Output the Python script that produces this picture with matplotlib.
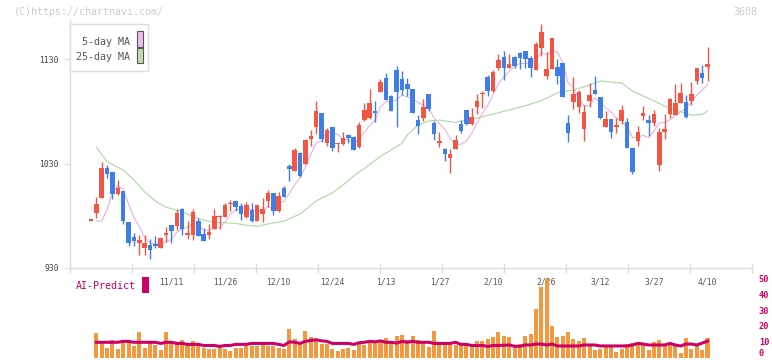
import numpy as np
import pandas as pd
import matplotlib
matplotlib.use('Agg')
import matplotlib.pyplot as plt
from matplotlib.patches import Rectangle
from matplotlib.transforms import blended_transform_factory

# ---- daily prices (candles, oldest first) ----
opens = [975.5, 982.6, 997, 1025.7, 1021.9, 1001, 1003.7, 974, 959.7, 954.2,
         949.4, 952, 953, 949.4, 961.6, 971.1, 970.5, 986.5, 961.6, 961.6,
         975, 962.5, 961.9, 967.6, 979, 978.8, 991.2, 994, 989.3, 979.1,
         985.5, 975.3, 981.7, 994, 1001.7, 984.5, 1006.6, 1027.6, 1023.1, 1040,
         1030, 1053.7, 1065.2, 1078.3, 1049.9, 1064.9, 1049.1, 1049.1, 1057.3, 1055.4,
         1045.8, 1071.9, 1073.8, 1080.2, 1098.8, 1112.2, 1094.6, 1119.5, 1110.9, 1106.1,
         1101.3, 1071.6, 1073.5, 1096.5, 1068.8, 1049.9, 1043.9, 1035.3, 1043.9, 1067.8,
         1081.2, 1067.8, 1084.1, 1097.2, 1112.8, 1099.4, 1121.4, 1131.9, 1121.4, 1131.9,
         1135.7, 1137.7, 1131, 1119.5, 1140.5, 1113.7, 1120.4, 1122.3, 1126.2, 1068.8,
         1088.9, 1084.1, 1063, 1089.8, 1100.3, 1093.6, 1064.9, 1072.6, 1064.9, 1070.7,
         1069.7, 1044.8, 1051.5, 1075.4, 1071.6, 1069, 1028.6, 1060.4, 1077.6, 1076.7,
         1087.9, 1088.9, 1089.8, 1108.9, 1116.6, 1122.3]
highs = [976.5, 998, 1031.4, 1028.6, 1021.9, 1014, 1003.7, 974, 963.5, 961.9,
         961.6, 957.8, 960.6, 958.7, 969.2, 971.1, 986.5, 987.4, 975, 986.5,
         977.8, 968.3, 972.1, 986.5, 980.7, 992.2, 995, 994, 992.2, 993.2,
         992.2, 990.3, 997, 1004.6, 1001.7, 1002.7, 1008.5, 1029.5, 1044.8, 1041,
         1053.4, 1062, 1089.8, 1078.3, 1064, 1064.9, 1049.9, 1060.1, 1058.2, 1056.3,
         1069.7, 1087.9, 1101.3, 1089.8, 1111.3, 1117, 1095.5, 1123.3, 1118.5, 1111.8,
         1101.3, 1076.4, 1091.7, 1096.5, 1070.7, 1060.1, 1044.8, 1043.9, 1057.3, 1071.6,
         1081.2, 1083.1, 1096.5, 1099.4, 1114.7, 1119.5, 1134.8, 1137.7, 1134.8, 1132.9,
         1136.7, 1137.7, 1132.9, 1146.3, 1163.5, 1136.7, 1150.1, 1130, 1126.2, 1076.4,
         1112.8, 1100.3, 1086, 1107, 1113.7, 1093.6, 1080.2, 1072.6, 1073.5, 1086,
         1073.5, 1044.8, 1065.9, 1085, 1076.4, 1081.2, 1064, 1077.4, 1092.7, 1106.1,
         1107, 1095.5, 1108, 1121.4, 1124.3, 1141.5]
lows = [975.5, 978, 997, 1016.4, 996, 999.6, 972.4, 951.4, 951.4, 942.7,
        942.7, 938.6, 949.4, 949.4, 954.9, 954.2, 966.7, 961.9, 957.8, 957.2,
        961, 956.1, 957.8, 967.6, 967.6, 978.8, 984.5, 984.5, 976, 978.2,
        974.4, 975.3, 974.4, 988.4, 980.7, 983.6, 997.9, 1013.7, 1023.1, 1017,
        1030, 1046.7, 1058.4, 1050.9, 1046.9, 1042.2, 1041.2, 1048.1, 1050.1, 1043.2,
        1045.1, 1071, 1072.9, 1070.1, 1098.8, 1090.7, 1080.2, 1065.2, 1095.5, 1094.6,
        1078.3, 1058.2, 1070.7, 1080.2, 1052.5, 1046.1, 1032.7, 1020.9, 1043.9, 1059.2,
        1066.8, 1066.8, 1077.4, 1083.1, 1094.6, 1098.4, 1119.5, 1109.9, 1121.4, 1121.4,
        1120.4, 1121.4, 1112.8, 1119.5, 1132.9, 1110.9, 1120.4, 1106.1, 1093.6, 1050.6,
        1082.2, 1078.3, 1051.5, 1084.1, 1096.5, 1072.6, 1064.9, 1054.4, 1059.2, 1067.8,
        1044.8, 1020, 1046.7, 1071.6, 1056.3, 1066.2, 1023.1, 1053.7, 1074, 1076.7,
        1087.9, 1073.5, 1086, 1106.1, 1107, 1108.9]
closes = [976.5, 991, 1025.7, 1020.2, 1001, 1006.3, 975.3, 954.2, 956.3, 956.8,
          953.9, 947.5, 951.3, 958.7, 963.5, 965.7, 982.6, 967.7, 963.5, 983.6,
          961, 956.1, 964.4, 979.8, 979.8, 990.3, 992.2, 988.4, 981.7, 990.3,
          975.3, 990.3, 986.5, 1001.7, 984.5, 998.9, 997.9, 1025, 1042.9, 1018,
          1052.5, 1056.3, 1080.2, 1053.7, 1062, 1045.1, 1049.9, 1054.4, 1054.7, 1043.2,
          1066.8, 1081.2, 1087.9, 1078.6, 1108.4, 1090.7, 1080.5, 1098.4, 1100.3, 1101.3,
          1078.3, 1065.9, 1084.1, 1082.2, 1058.2, 1051.5, 1039.1, 1039.1, 1052.5, 1061.1,
          1067.8, 1074.5, 1089.8, 1097.5, 1099.4, 1117.6, 1129.1, 1121.4, 1125.2, 1123.3,
          1131, 1130, 1121.4, 1144.4, 1155.8, 1120.4, 1150.1, 1113.7, 1093.6, 1059.2,
          1096.5, 1098.4, 1079.3, 1095.5, 1096.5, 1073.5, 1072.6, 1060.1, 1066.8, 1081.2,
          1044.8, 1021.9, 1060.1, 1078.3, 1069, 1077.4, 1060.1, 1063, 1091.7, 1087.9,
          1097.5, 1074.5, 1096.5, 1121.4, 1111.8, 1125.2]

# 5-day MA: first points (need earlier days), rest from closes
ma5_head = [975, 975, 986]
# 25-day MA (candle index, value)
ma25_idx = [1, 3, 6, 8, 10, 12, 14, 17, 19, 21, 23, 27, 29, 31, 33, 36, 39, 42, 45,
            47, 49, 51, 54, 58, 59, 61, 63, 65, 68, 71, 74, 78, 81, 84, 87, 90, 93,
            95, 99, 101, 104, 107, 110, 112, 114, 115]
ma25_val = [1045.7, 1031.9, 1023.9, 1014.3, 1003.1, 994.2, 988.2, 984, 979.2, 976,
            973.8, 972.8, 970.9, 970, 972.2, 975, 981.7, 994.2, 1001.9, 1009.5,
            1018.2, 1025.5, 1037, 1049.5, 1057.5, 1067, 1070.9, 1071.8, 1069.6, 1072.5,
            1076.3, 1081.4, 1085.5, 1090.3, 1098, 1100.6, 1105.4, 1109.2, 1107.3, 1099.6,
            1092.6, 1085.2, 1079.8, 1076.6, 1077.3, 1080.5]

# volume (no bar on first day) and AI-Predict line
volume = [0, 15.5, 9.7, 6.1, 11.1, 5.5, 11.1, 9.7, 7.4, 16.2,
          6.1, 9.7, 8.0, 4.8, 16.2, 9.7, 8.4, 11.1, 8.4, 10.5,
          7.4, 6.3, 5.5, 5.5, 6.7, 5.5, 4.2, 6.3, 6.3, 7.2,
          7.4, 7.4, 8.4, 7.4, 7.2, 6.3, 5.5, 18.1, 11.8, 9.7,
          16.8, 13.0, 11.1, 8.8, 8.8, 5.5, 4.2, 5.5, 6.1, 4.8,
          9.2, 8.2, 11.1, 9.2, 9.7, 12.4, 9.2, 13.6, 14.3, 11.1,
          13.6, 11.1, 9.2, 6.7, 16.8, 9.2, 9.7, 9.2, 8.0, 9.2,
          8.0, 8.6, 10.5, 10.5, 11.8, 13.0, 16.2, 13.6, 13.0, 6.5,
          8.4, 13.6, 14.9, 30.6, 44.5, 49.5, 19.9, 13.0, 13.6, 16.2,
          11.8, 10.5, 12.4, 8.4, 4.8, 5.5, 6.5, 7.2, 3.6, 5.5,
          8.4, 9.2, 7.8, 8.4, 4.8, 9.9, 11.1, 8.4, 9.2, 7.2,
          3.0, 12.4, 5.5, 8.4, 4.8, 12.4]
ai_pred = [np.nan, 9.7, 9.7, 9.7, 9.7, 9.7, 10.3, 10.3, 9.7, 9.7,
           9.7, 9.7, 9.7, 9.0, 9.7, 9.7, 9.0, 9.0, 8.4, 8.4,
           8.4, 7.7, 7.7, 7.7, 7.1, 7.7, 7.7, 8.4, 8.4, 8.4,
           9.0, 9.0, 9.0, 9.0, 9.0, 8.4, 7.7, 10.0, 9.7, 9.0,
           10.3, 10.9, 11.3, 10.6, 10.3, 9.0, 9.0, 9.0, 9.0, 8.4,
           9.4, 9.7, 10.3, 10.0, 10.6, 9.7, 9.7, 9.2, 10.3, 9.7,
           10.3, 9.7, 9.7, 9.7, 9.0, 9.0, 9.0, 9.0, 9.7, 8.4,
           8.4, 7.7, 7.7, 7.7, 7.1, 7.7, 7.7, 7.8, 8.0, 7.2,
           7.2, 8.0, 8.0, 8.6, 8.6, 8.0, 8.6, 7.4, 7.4, 7.4,
           7.4, 7.4, 8.0, 8.0, 8.0, 7.4, 7.4, 7.4, 7.4, 7.4,
           7.4, 8.0, 9.0, 8.6, 8.0, 8.0, 8.0, 8.0, 9.0, 8.0,
           7.4, 8.6, 8.6, 8.0, 9.2, 10.4]

date_labels = ['11/11', '11/26', '12/10', '12/24', '1/13', '1/27',
               '2/10', '2/26', '3/12', '3/27', '4/10']
date_idx = [15, 25, 35, 45, 55, 65, 75, 85, 95, 105, 115]
price_ticks = [930, 1030, 1130]
vol_ticks = [0, 10, 20, 30, 40, 50]


def main():
    W, H = 772, 361
    fig = plt.figure(figsize=(W / 100, H / 100), dpi=100)
    mono = 'DejaVu Sans Mono'
    grey = '#dddddd'
    red, blue = '#f25543', '#3f7ee8'
    mag = '#cc0066'

    def fx(px):
        return px / W

    def fy(py):
        return 1 - py / H

    n = len(closes)
    x = np.arange(n)
    xlim = (-3.92, 123.3)

    # ================================ price panel ================================ #
    ax = fig.add_axes([fx(70), fy(268), fx(682), 248 / H])
    ax.set_xlim(xlim)
    ax.set_ylim(930, 1167.7)

    o = np.array(opens)
    c = np.array(closes)
    up = c >= o
    colors = np.where(up, red, blue)
    ax.vlines(x, lows, highs, colors=colors, linewidth=1.0, zorder=2)
    body_lo = np.minimum(o, c)
    body_h = np.maximum(np.abs(c - o), 1.0)
    ax.bar(x, body_h, bottom=body_lo, width=0.85, color=colors, linewidth=0, zorder=3)

    ma5 = pd.Series(closes).rolling(5).mean().to_numpy()
    ma5[1:1 + len(ma5_head)] = ma5_head
    ax.plot(x, ma5, color='#e6b0e6', linewidth=0.8, zorder=1)
    ax.plot(ma25_idx, ma25_val, color='#acd8a2', linewidth=0.8, zorder=1)

    for s in ['top', 'right']:
        ax.spines[s].set_visible(False)
    for s in ['left', 'bottom']:
        ax.spines[s].set_color(grey)
        ax.spines[s].set_linewidth(1.0)
    ax.set_yticks(price_ticks)
    ax.set_yticklabels([str(t) for t in price_ticks], fontsize=5.8,
                       family=mono, color='#444444')
    ax.tick_params(axis='y', length=4, color=grey, pad=4)
    ax.set_xticks(np.linspace(xlim[0], xlim[1], 12))
    ax.set_xticklabels([])
    ax.tick_params(axis='x', direction='inout', length=7, color=grey, width=1.0)

    # date labels between the panels (volume bars may draw over them)
    tr = blended_transform_factory(ax.transData, ax.transAxes)
    for i, lab in zip(date_idx, date_labels):
        ax.text(i, -0.057, lab, transform=tr, ha='center', va='center',
                fontsize=5.8, family=mono, color='#555555', clip_on=False)

    # ================================ volume panel =============================== #
    ax2 = fig.add_axes([fx(70), fy(357.7), fx(682), 79.4 / H])
    ax2.patch.set_alpha(0)
    ax2.set_xlim(xlim)
    ax2.set_ylim(0, 50)
    ax2.bar(x, volume, width=0.75, color='#f2983f', linewidth=0, zorder=1)
    ax2.plot(x, ai_pred, color=mag, linewidth=2.2, zorder=2)
    for s in ax2.spines.values():
        s.set_visible(False)
    ax2.set_xticks([])
    ax2.yaxis.tick_right()
    ax2.set_yticks(vol_ticks)
    ax2.set_yticklabels([str(t) for t in vol_ticks], fontsize=6.2,
                        family=mono, color=mag, fontweight='bold')
    ax2.tick_params(axis='y', length=0, pad=5)
    ax2.get_yticklabels()[0].set_verticalalignment('bottom')

    # ================================ decorations ================================ #
    fig.text(fx(14), fy(12), '(C)https://chartnavi.com/', fontsize=7.2,
             family=mono, color='#cccccc', ha='left', va='center')
    fig.text(fx(757), fy(12), '3608', fontsize=7.2, family=mono,
             color='#cccccc', ha='right', va='center')

    # legend box
    fig.add_artist(Rectangle((fx(70), fy(71)), fx(78), 47 / H, transform=fig.transFigure,
                             facecolor='white', edgecolor=grey, linewidth=1.0, zorder=5))
    fig.text(fx(129.5), fy(41.7), '5-day MA', fontsize=7.2, family=mono,
             color='#555555', ha='right', va='center', zorder=6)
    fig.text(fx(129.5), fy(57.3), '25-day MA', fontsize=7.2, family=mono,
             color='#555555', ha='right', va='center', zorder=6)
    fig.add_artist(Rectangle((fx(136.5), fy(46.5)), fx(6), 15 / H, transform=fig.transFigure,
                             facecolor='#efbcef', edgecolor='#555555', linewidth=0.8, zorder=6))
    fig.add_artist(Rectangle((fx(136.5), fy(63.3)), fx(6), 15 / H, transform=fig.transFigure,
                             facecolor='#bcdeb2', edgecolor='#555555', linewidth=0.8, zorder=6))

    # AI-Predict label
    fig.text(fx(76), fy(286), 'AI-Predict', fontsize=7.2, family=mono,
             color=mag, ha='left', va='center')
    fig.add_artist(Rectangle((fx(142), fy(293)), fx(7), 16 / H, transform=fig.transFigure,
                             facecolor=mag, edgecolor='none', zorder=5))

    fig.savefig('out.png', dpi=100)


if __name__ == '__main__':
    main()
